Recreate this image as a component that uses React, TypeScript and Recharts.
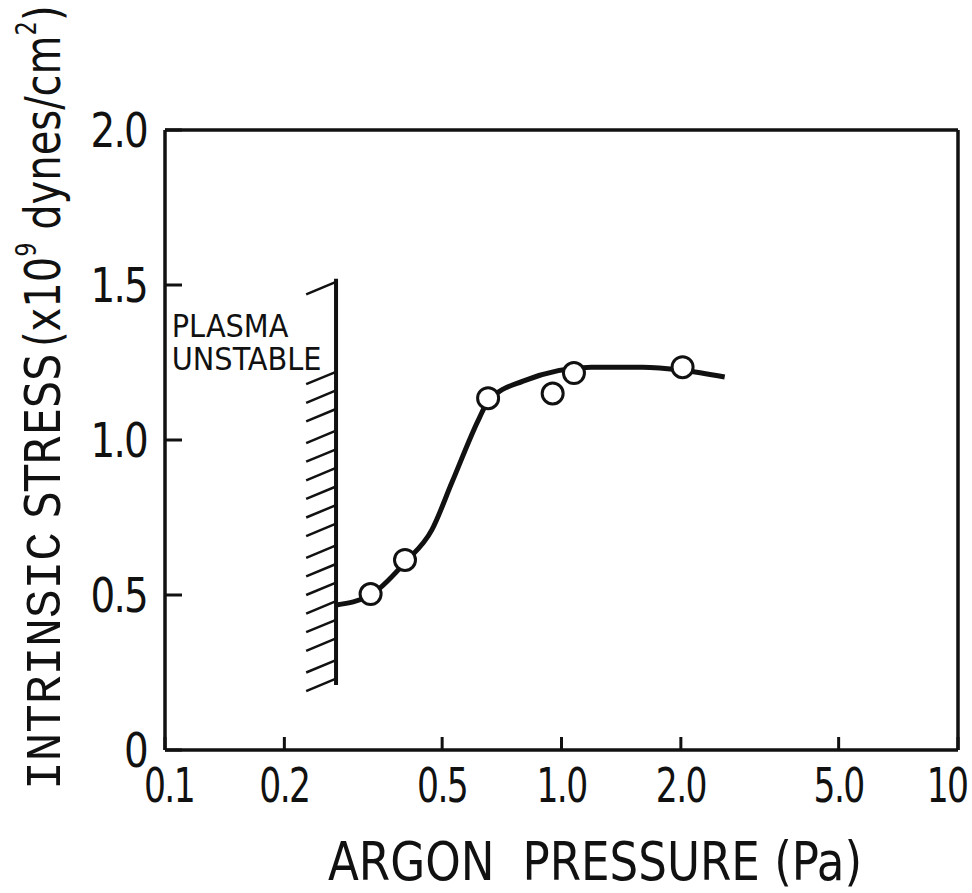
import React from 'react';
import {
  ComposedChart,
  Line,
  Scatter,
  XAxis,
  YAxis,
  ReferenceLine,
  ReferenceDot,
} from 'recharts';

// Intrinsic stress vs argon pressure (log x).

// measured points (open circles)
const pressure = [0.33, 0.403, 0.653, 0.95, 1.075, 2.02];
const stress = [0.503, 0.613, 1.135, 1.15, 1.216, 1.235];

// hand drawn fit through the points
const curvePressure = [0.27, 0.33, 0.403, 0.471, 0.53, 0.62, 0.653, 0.8, 1.19, 1.6, 2.02, 2.58];
const curveStress = [0.468, 0.5, 0.605, 0.71, 0.865, 1.07, 1.125, 1.19, 1.235, 1.235, 1.225, 1.203];

// "plasma unstable" wall and its hatch levels
const wallPressure = 0.27;
const wallRange = [0.21, 1.52];
const hatchLevels = [1.51, 1.22, 1.16, 1.1, 1.03, 0.97, 0.91, 0.85, 0.79, 0.73, 0.66, 0.6, 0.54, 0.48, 0.42, 0.36, 0.29, 0.23];
const hatchPressure = 0.227;
const hatchDrop = 0.04;

const xTicks = [0.1, 0.2, 0.5, 1, 2, 5, 10];
const xTickLabels = ['0.1', '0.2', '0.5', '1.0', '2.0', '5.0', '10'];
const yTicks = [0, 0.5, 1, 1.5, 2];
const yTickLabels = ['0', '0.5', '1.0', '1.5', '2.0'];

const points = pressure.map((p, i) => ({ p, s: stress[i] }));
const curve = curvePressure.map((p, i) => ({ p, s: curveStress[i] }));

const SANS = "'Liberation Sans Narrow', 'DejaVu Sans Condensed', 'Liberation Sans', sans-serif";
const MONO = "'Liberation Mono', 'DejaVu Sans Mono', monospace";
const INK = '#111';

const XTick = (props: any) => {
  const { x, y, payload } = props;
  const i = xTicks.indexOf(payload.value);
  const nudge = payload.value === 10 ? -11 : payload.value === 0.1 ? 4 : 0;
  return (
    <text transform={`translate(${x + nudge},${y}) scale(0.8,1)`} dy="0.71em" textAnchor="middle"
      fill={INK} fontSize={48} fontFamily={SANS} letterSpacing={-2}>
      {xTickLabels[i]}
    </text>
  );
};

const YTick = (props: any) => {
  const { x, y, payload } = props;
  const i = yTicks.indexOf(payload.value);
  return (
    <text transform={`translate(${x},${y}) scale(0.9,1)`} dy="0.355em" textAnchor="end"
      fill={INK} fontSize={48} fontFamily={SANS} letterSpacing={-2}>
      {yTickLabels[i]}
    </text>
  );
};

const XTitle = (props: any) => {
  const vb = props.viewBox || { x: 165, y: 750 };
  return (
    <text transform={`translate(${vb.x + 430},${vb.y + 130}) scale(0.93,1)`} textAnchor="middle"
      fill={INK} fontSize={54} fontFamily={SANS}>
      <tspan>ARGON</tspan>
      <tspan dx={30}>PRESSURE (Pa)</tspan>
    </text>
  );
};

const YTitle = (props: any) => {
  const vb = props.viewBox || { x: 0 };
  const bx = vb.x + 60;
  return (
    <g fill={INK}>
      <text transform={`translate(${bx},790) rotate(-90) scale(0.955,1)`} fontSize={50} fontFamily={SANS}>
        <tspan fontFamily={MONO}>INTRINSIC</tspan>
        <tspan> STRESS</tspan>
      </text>
      <text transform={`translate(${bx},347) rotate(-90) scale(0.89,1)`} fontSize={50} fontFamily={SANS}>
        <tspan>(x10</tspan>
        <tspan fontSize={28} dy={-24}>9</tspan>
        <tspan dy={24}> dynes/cm</tspan>
        <tspan fontSize={28} dy={-24}>2</tspan>
        <tspan dy={24}>)</tspan>
      </text>
    </g>
  );
};

const Circle = (props: any) => (
  <circle cx={props.cx} cy={props.cy} r={10.5} fill="#fff" stroke={INK} strokeWidth={3} />
);

const note = (txt: string) => (p: any) => (
  <text x={p.cx} y={p.cy} fill={INK} fontSize={32} fontFamily={SANS}>
    {txt}
  </text>
);

function App() {
  return (
    <div style={{ position: 'absolute', left: 0, top: 0, background: '#fff' }}>
      <ComposedChart width={972} height={893} margin={{ top: 130, right: 14, bottom: 0, left: 0 }}>
        <XAxis
          type="number"
          dataKey="p"
          scale="log"
          domain={[0.1, 10]}
          allowDataOverflow
          ticks={xTicks}
          interval={0}
          height={143}
          tickSize={-13}
          tickMargin={31}
          tickLine={{ stroke: INK, strokeWidth: 3 }}
          axisLine={{ stroke: INK, strokeWidth: 3.5 }}
          tick={<XTick />}
          label={<XTitle />}
        />
        <YAxis
          type="number"
          dataKey="s"
          domain={[0, 2]}
          ticks={yTicks}
          interval={0}
          width={165}
          tickSize={-17}
          tickMargin={35}
          tickLine={{ stroke: INK, strokeWidth: 3 }}
          axisLine={{ stroke: INK, strokeWidth: 3.5 }}
          tick={<YTick />}
          label={<YTitle />}
        />
        <ReferenceLine y={2} stroke={INK} strokeWidth={3.5} />
        <ReferenceLine x={10} stroke={INK} strokeWidth={3.5} />
        <ReferenceLine
          segment={[{ x: wallPressure, y: wallRange[0] }, { x: wallPressure, y: wallRange[1] }]}
          stroke={INK}
          strokeWidth={4}
        />
        {hatchLevels.map((h) => (
          <ReferenceLine
            key={h}
            segment={[{ x: hatchPressure, y: h - hatchDrop }, { x: wallPressure, y: h }]}
            stroke={INK}
            strokeWidth={2.5}
          />
        ))}
        <ReferenceDot x={0.104} y={1.332} r={0} shape={note('PLASMA')} />
        <ReferenceDot x={0.104} y={1.226} r={0} shape={note('UNSTABLE')} />
        <Line
          data={curve}
          dataKey="s"
          type="monotone"
          stroke={INK}
          strokeWidth={5}
          dot={false}
          activeDot={false}
          isAnimationActive={false}
        />
        <Scatter data={points} dataKey="s" shape={<Circle />} isAnimationActive={false} />
      </ComposedChart>
    </div>
  );
}

export default App;
